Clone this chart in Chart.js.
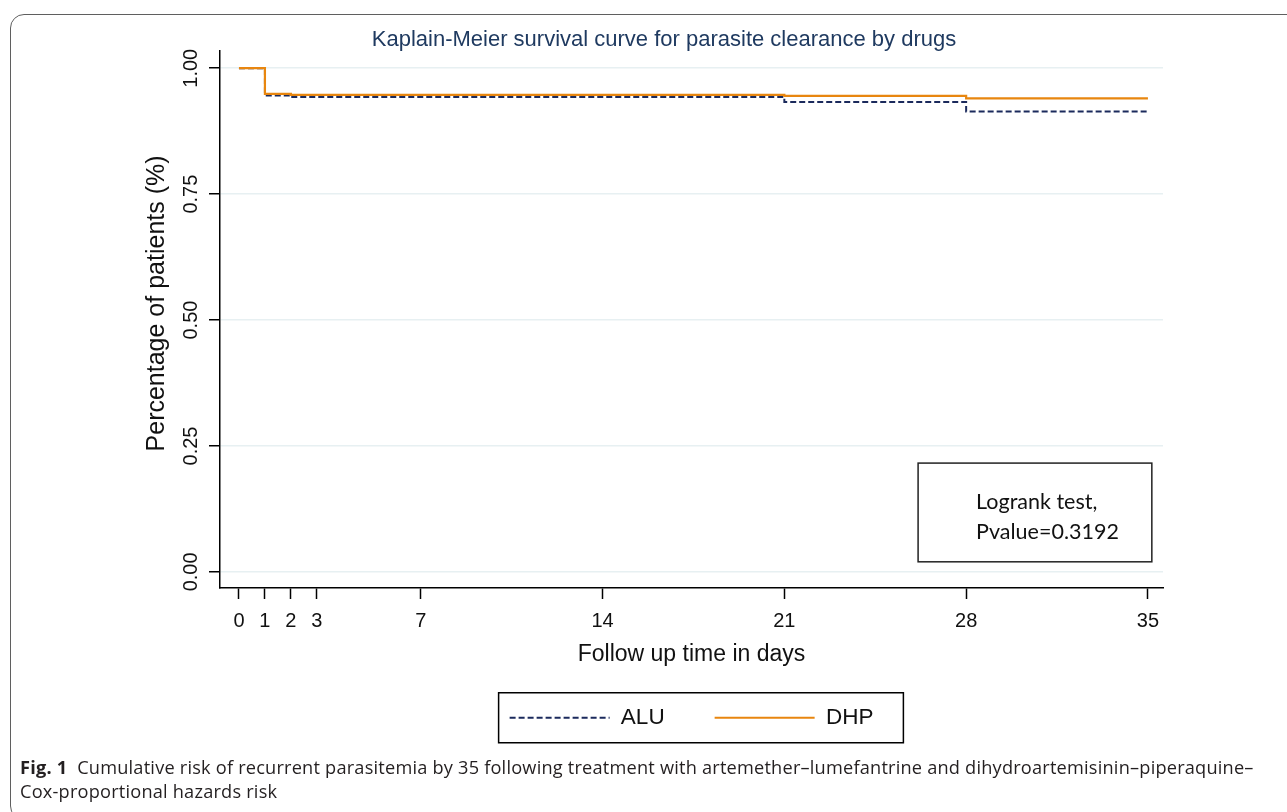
<!DOCTYPE html>
<html>
<head>
<meta charset="utf-8">
<script src="https://cdn.jsdelivr.net/npm/chart.js@4.4.1/dist/chart.umd.min.js"></script>
<style>
    html, body { margin: 0; padding: 0; background: #fff; width: 1287px; height: 812px; overflow: hidden; }
    #frame {
        position: absolute; left: 10px; top: 14px; width: 1320px; height: 806px;
        border: 1.5px solid #5f5f5f; border-radius: 14px; box-sizing: border-box;
    }
    #chart-wrap { position: absolute; left: 0; top: 0; width: 1287px; height: 760px; }
    #caption {
        position: absolute; left: 20px; top: 755px;
        font-family: 'Open Sans', sans-serif; font-size: 18.2px; letter-spacing: 0.2px; line-height: 24px;
        color: #231f20; white-space: nowrap;
    }
</style>
</head>
<body>
<div id="frame"></div>
<div id="chart-wrap"><canvas id="km" width="1287" height="760"></canvas></div>
<div id="caption"><b>Fig. 1</b>&nbsp; Cumulative risk of recurrent parasitemia by 35 following treatment with artemether–lumefantrine and dihydroartemisinin–piperaquine–<br>Cox-proportional hazards risk</div>
<script>
// --- Data ---
const days = [0, 1, 2, 21, 28, 35];
const aluSurvival = [1.0, 0.946, 0.943, 0.933, 0.914, 0.914];
const dhpSurvival = [1.0, 0.949, 0.947, 0.945, 0.940, 0.940];
const xTicks = [0, 1, 2, 3, 7, 14, 21, 28, 35];
const yTicks = [0, 0.25, 0.5, 0.75, 1];
const seriesLabels = ['ALU', 'DHP'];
const chartTitle = 'Kaplain-Meier survival curve for parasite clearance by drugs';
const xTitle = 'Follow up time in days';
const yTitle = 'Percentage of patients (%)';
const testLines = ['Logrank test,', 'Pvalue=0.3192'];

const FONT = "'Liberation Sans', Arial, sans-serif";

const toPoints = (xs, ys) => xs.map((x, i) => ({ x: x, y: ys[i] }));

// rotated y tick labels + y title (Stata style)
const yAxisText = {
    id: 'yAxisText',
    afterDraw(chart) {
        const ctx = chart.ctx;
        const ys = chart.scales.y;
        const left = chart.chartArea.left;
        ctx.save();
        ctx.fillStyle = '#111';
        ctx.textAlign = 'center';
        ctx.textBaseline = 'middle';
        ctx.font = '20px ' + FONT;
        yTicks.forEach(v => {
            ctx.save();
            ctx.translate(left - 29, ys.getPixelForValue(v));
            ctx.rotate(-Math.PI / 2);
            ctx.fillText(v.toFixed(2), 0, 0);
            ctx.restore();
        });
        const midY = chart.chartArea.top + (chart.chartArea.bottom - chart.chartArea.top) * 0.47;
        ctx.font = '25px ' + FONT;
        ctx.translate(left - 63, midY);
        ctx.rotate(-Math.PI / 2);
        ctx.fillText(yTitle, 0, 0);
        ctx.restore();
    }
};

// logrank annotation box + frame round the legend
const boxes = {
    id: 'boxes',
    afterDraw(chart) {
        const ctx = chart.ctx;
        const xs = chart.scales.x, ys = chart.scales.y;
        const x1 = xs.getPixelForValue(26.15), x2 = xs.getPixelForValue(35.15);
        const y1 = ys.getPixelForValue(0.216), y2 = ys.getPixelForValue(0.02);
        ctx.save();
        ctx.strokeStyle = '#222';
        ctx.lineWidth = 1.5;
        ctx.strokeRect(x1, y1, x2 - x1, y2 - y1);
        ctx.fillStyle = '#111';
        ctx.font = "21.5px Lato, 'Open Sans', sans-serif";
        ctx.textAlign = 'left';
        ctx.textBaseline = 'middle';
        const cy = (y1 + y2) / 2;
        ctx.fillText(testLines[0], x1 + 58, cy - 10);
        ctx.fillText(testLines[1], x1 + 58, cy + 20);

        const hb = chart.legend.legendHitBoxes;
        if (hb && hb.length) {
            const l = Math.min(...hb.map(h => h.left)) - 11;
            const r = Math.max(...hb.map(h => h.left + h.width)) + 30;
            const my = hb[0].top + hb[0].height / 2;
            ctx.strokeStyle = '#000';
            ctx.strokeRect(l, my - 25, r - l, 50);
        }
        ctx.restore();
    }
};

const baseLabels = Chart.defaults.plugins.legend.labels.generateLabels;

new Chart(document.getElementById('km').getContext('2d'), {
    type: 'line',
    data: {
        datasets: [
            {
                label: seriesLabels[0],
                data: toPoints(days, aluSurvival),
                borderColor: '#1b2a5c',
                backgroundColor: 'transparent',
                borderWidth: 2,
                borderDash: [6, 3],
                stepped: 'before',
                pointRadius: 0,
                order: 1
            },
            {
                label: seriesLabels[1],
                data: toPoints(days, dhpSurvival),
                borderColor: '#e8860f',
                backgroundColor: 'transparent',
                borderWidth: 2.2,
                stepped: 'before',
                pointRadius: 0,
                order: 0
            }
        ]
    },
    options: {
        responsive: false,
        animation: false,
        layout: { padding: { left: 165, right: 124, top: 28, bottom: 21 } },
        plugins: {
            tooltip: { enabled: false },
            title: {
                display: true,
                text: chartTitle,
                color: '#1f3a60',
                font: { family: FONT, size: 22, weight: 'normal', lineHeight: 1.05 },
                padding: { top: 0, bottom: 0 }
            },
            legend: {
                position: 'bottom',
                fullSize: false,
                labels: {
                    usePointStyle: true,
                    pointStyle: 'line',
                    pointStyleWidth: 100,
                    padding: 50,
                    color: '#111',
                    font: { family: FONT, size: 22.5 },
                    sort: (a, b) => a.datasetIndex - b.datasetIndex,
                    generateLabels(chart) {
                        return baseLabels(chart).map(item => {
                            const ds = chart.data.datasets[item.datasetIndex];
                            item.lineDash = ds.borderDash || [];
                            item.lineWidth = ds.borderWidth;
                            item.strokeStyle = ds.borderColor;
                            item.pointStyle = 'line';
                            return item;
                        });
                    }
                }
            }
        },
        scales: {
            x: {
                type: 'linear',
                min: -0.73,
                max: 35.58,
                afterBuildTicks: s => { s.ticks = xTicks.map(v => ({ value: v })); },
                afterFit: s => { s.height = 68.5; },
                ticks: {
                    autoSkip: false,
                    maxRotation: 0,
                    padding: 10,
                    color: '#111',
                    font: { family: FONT, size: 20 }
                },
                grid: {
                    drawOnChartArea: false,
                    drawTicks: true,
                    tickLength: 11,
                    tickColor: '#000',
                    tickWidth: 1.5
                },
                border: { display: true, color: '#000', width: 1.5 },
                title: {
                    display: true,
                    text: xTitle,
                    color: '#111',
                    font: { family: FONT, size: 23 },
                    padding: { top: 0, bottom: -12.3 }
                }
            },
            y: {
                type: 'linear',
                min: -0.032,
                max: 1.034,
                afterBuildTicks: s => { s.ticks = yTicks.map(v => ({ value: v })); },
                afterFit: s => { s.width = 55; },
                ticks: { display: false },
                grid: {
                    color: '#e7f0f2',
                    lineWidth: 1.5,
                    drawTicks: true,
                    tickLength: 11,
                    tickColor: '#000',
                    tickWidth: 1.5
                },
                border: { display: true, color: '#000', width: 1.5 }
            }
        }
    },
    plugins: [yAxisText, boxes]
});
</script>
</body>
</html>
